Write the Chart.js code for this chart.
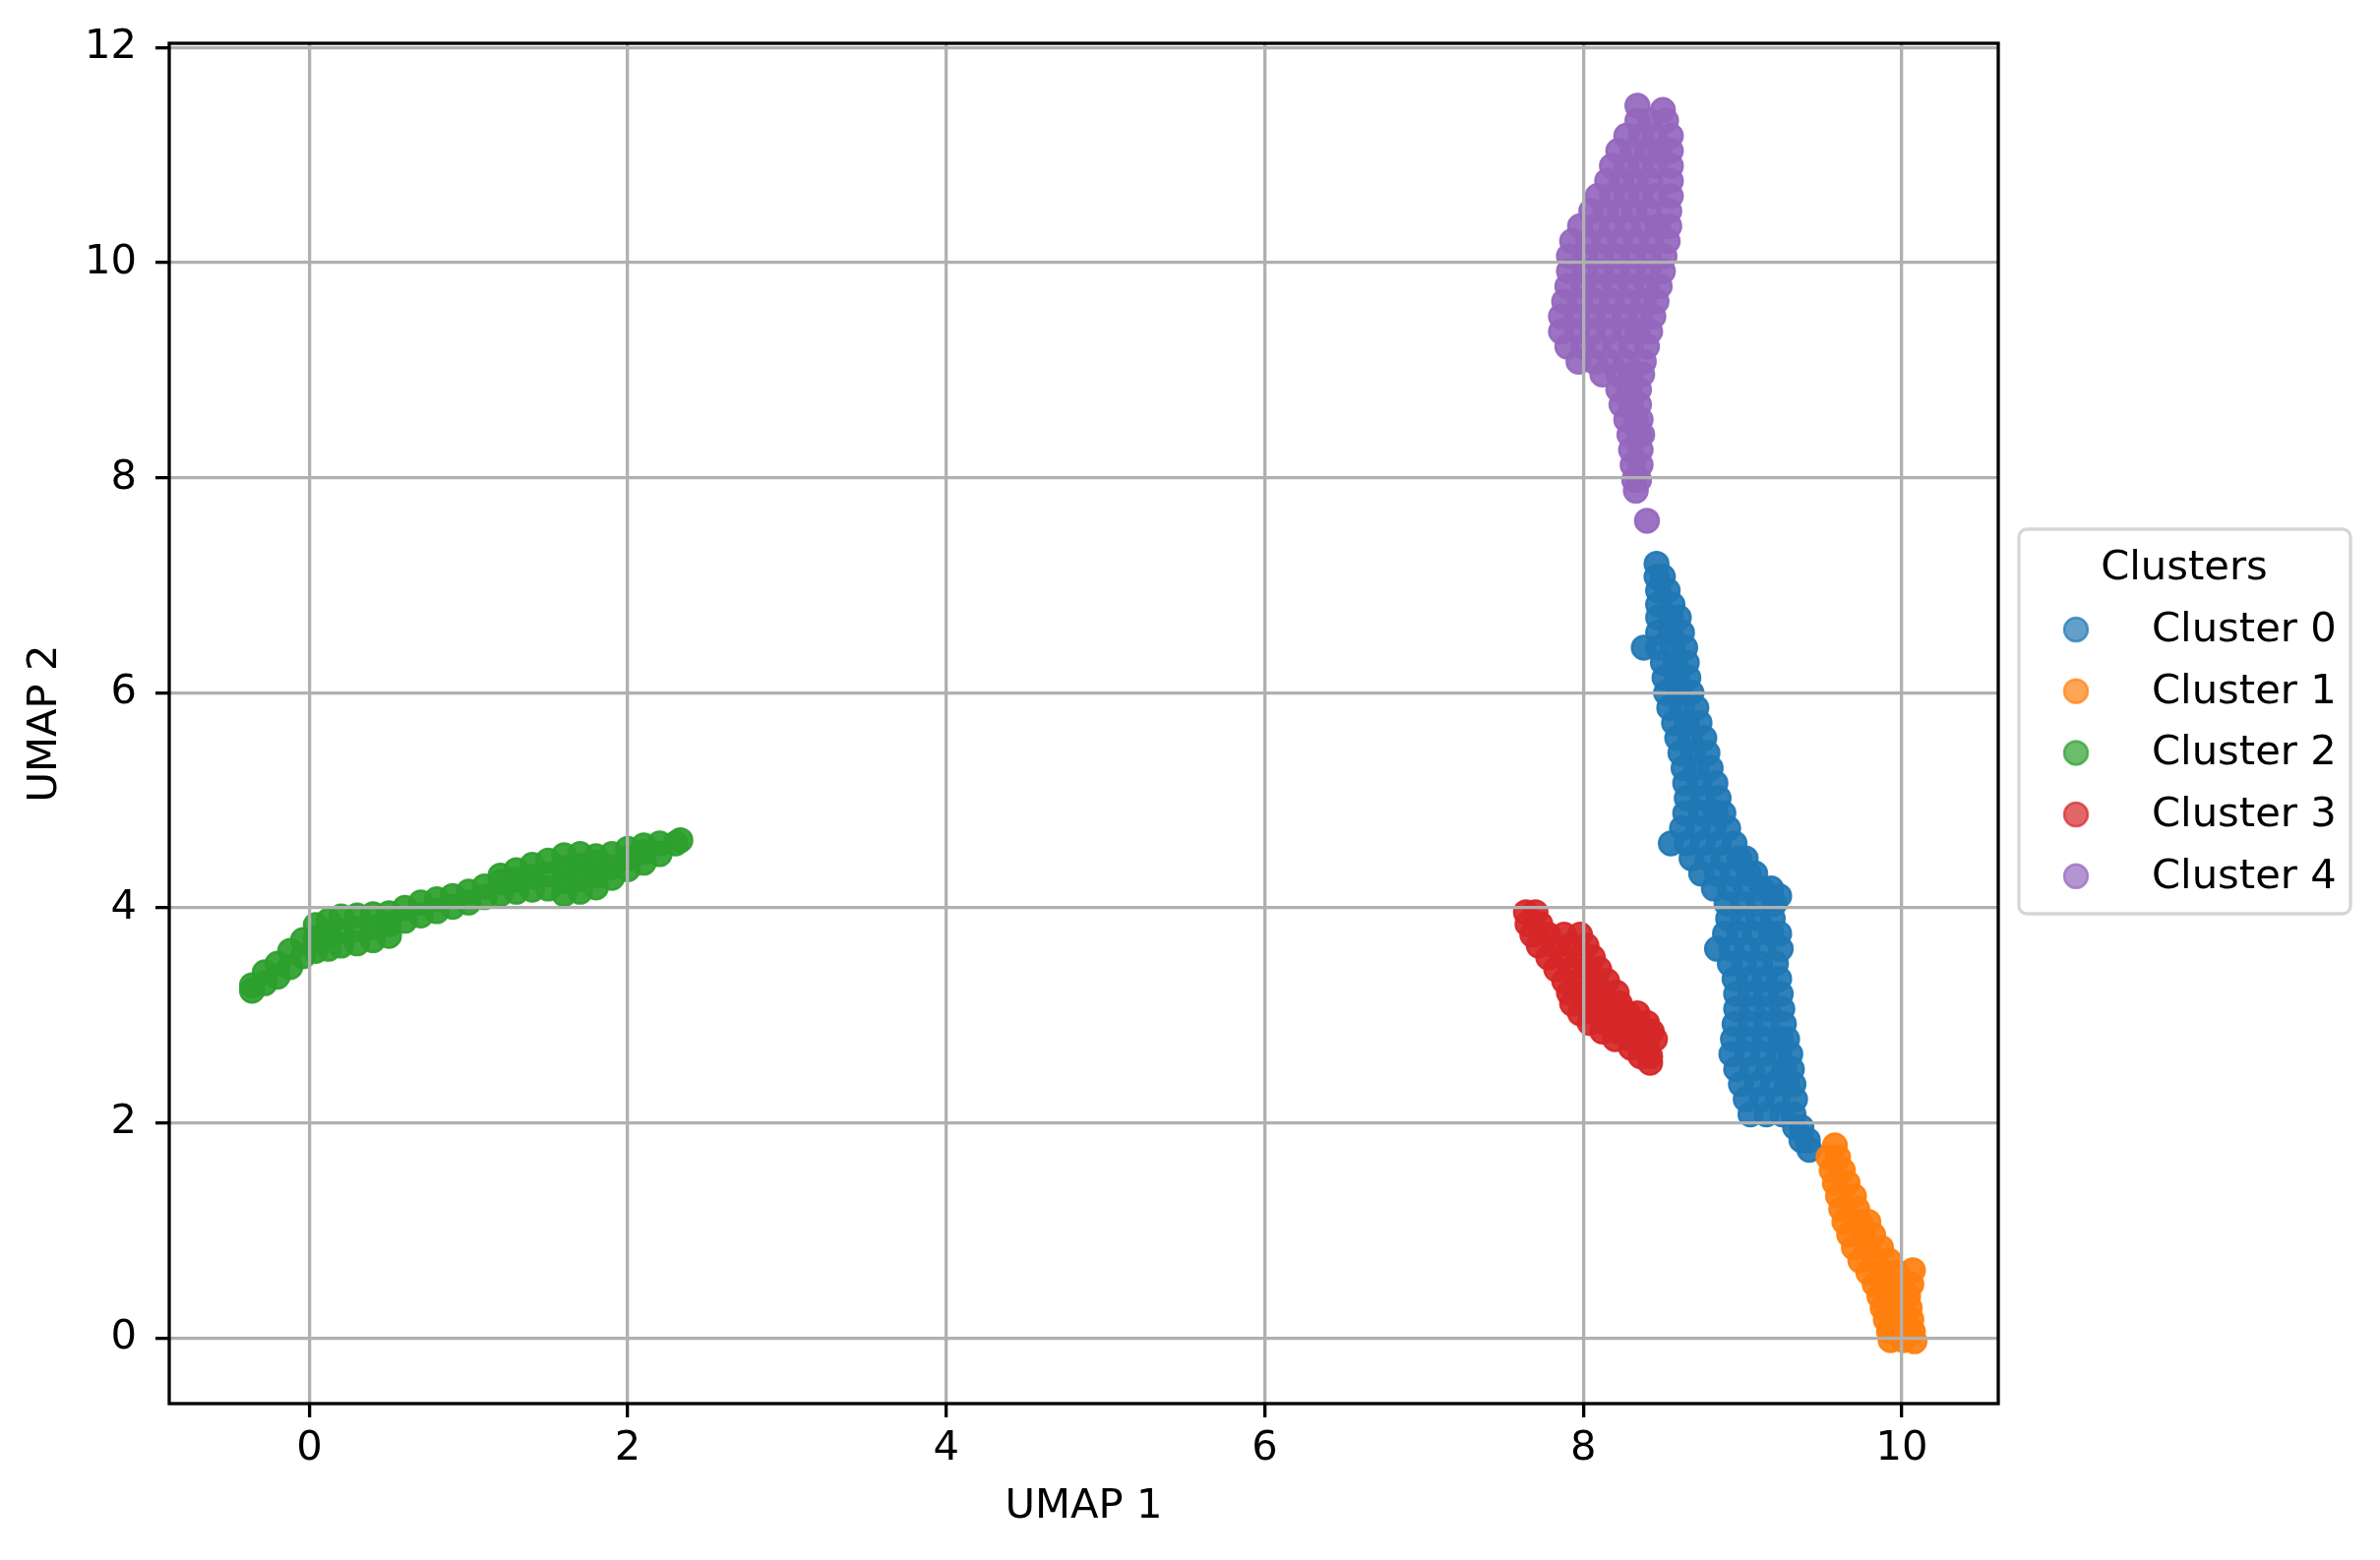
<!DOCTYPE html>
<html>
<head>
<meta charset="utf-8">
<script src="https://cdn.jsdelivr.net/npm/chart.js@4.4.1/dist/chart.umd.min.js"></script>
<style>
  html, body { margin: 0; padding: 0; background: #fff; }
  canvas { display: block; }
</style>
</head>
<body>
<canvas id="umapChart" width="2419" height="1586"></canvas>
<script>
var clusterNames = ["Cluster 0", "Cluster 1", "Cluster 2", "Cluster 3", "Cluster 4"];
var clusterColors = ["31,119,180", "255,127,14", "44,160,44", "214,39,40", "148,103,189"];
var xTicks = [0, 2, 4, 6, 8, 10];
var yTicks = [0, 2, 4, 6, 8, 10, 12];

// points, [umap1, umap2]
var cluster0 = [
  [8.46,7.20],
  [8.46,7.08],[8.50,7.08],
  [8.47,6.95],[8.53,6.95],
  [8.47,6.82],[8.56,6.82],
  [8.47,6.70],[8.55,6.70],[8.60,6.70],
  [8.47,6.56],[8.55,6.56],[8.62,6.56],
  [8.38,6.42],[8.47,6.42],[8.56,6.42],[8.64,6.42],
  [8.50,6.28],[8.58,6.28],[8.65,6.28],
  [8.51,6.14],[8.59,6.14],[8.66,6.14],
  [8.52,6.00],[8.60,6.00],[8.68,6.00],
  [8.54,5.86],[8.62,5.86],[8.71,5.86],
  [8.57,5.72],[8.65,5.72],[8.73,5.72],
  [8.59,5.58],[8.67,5.58],[8.76,5.58],
  [8.61,5.44],[8.69,5.44],[8.78,5.44],
  [8.63,5.30],[8.71,5.30],[8.80,5.30],
  [8.64,5.16],[8.73,5.16],[8.83,5.16],
  [8.65,5.02],[8.75,5.02],[8.85,5.02],
  [8.64,4.88],[8.74,4.88],[8.83,4.88],[8.88,4.88],
  [8.62,4.74],[8.72,4.74],[8.82,4.74],[8.91,4.74],
  [8.55,4.60],[8.65,4.60],[8.75,4.60],[8.85,4.60],[8.95,4.60],
  [8.68,4.46],[8.78,4.46],[8.88,4.46],[8.98,4.46],[9.02,4.46],
  [8.74,4.32],[8.84,4.32],[8.94,4.32],[9.04,4.32],[9.08,4.32],
  [8.82,4.18],[8.92,4.18],[9.02,4.18],[9.12,4.18],[9.18,4.18],
  [8.90,4.04],[9.00,4.04],[9.10,4.04],[9.20,4.04],[9.23,4.11],
  [8.91,3.90],[9.00,3.90],[9.10,3.90],[9.19,3.90],
  [8.89,3.76],[8.98,3.76],[9.08,3.76],[9.18,3.76],[9.23,3.76],
  [8.84,3.62],[8.93,3.62],[9.03,3.62],[9.13,3.62],[9.24,3.62],
  [8.92,3.48],[9.01,3.48],[9.11,3.48],[9.21,3.48],
  [8.95,3.34],[9.04,3.34],[9.14,3.34],[9.23,3.34],
  [8.96,3.20],[9.05,3.20],[9.15,3.20],[9.24,3.20],
  [8.96,3.06],[9.06,3.06],[9.16,3.06],[9.25,3.06],
  [8.95,2.92],[9.05,2.92],[9.15,2.92],[9.26,2.92],
  [8.94,2.78],[9.04,2.78],[9.14,2.78],[9.24,2.78],[9.28,2.78],
  [8.93,2.64],[9.03,2.64],[9.13,2.64],[9.23,2.64],[9.30,2.64],
  [8.96,2.50],[9.06,2.50],[9.16,2.50],[9.26,2.50],[9.31,2.50],
  [8.99,2.36],[9.09,2.36],[9.19,2.36],[9.28,2.36],[9.32,2.36],
  [9.02,2.22],[9.12,2.22],[9.22,2.22],[9.33,2.22],
  [9.05,2.08],[9.15,2.08],[9.25,2.08],[9.32,2.08],
  [9.33,1.96],[9.37,1.96],
  [9.37,1.84],[9.41,1.84],
  [9.42,1.75]
];

var cluster1 = [
  [9.58,1.79],
  [9.54,1.68],[9.60,1.68],
  [9.56,1.56],[9.63,1.56],
  [9.58,1.44],[9.66,1.44],
  [9.60,1.32],[9.70,1.32],
  [9.62,1.20],[9.72,1.20],
  [9.64,1.08],[9.74,1.08],[9.79,1.08],
  [9.67,0.96],[9.76,0.96],[9.82,0.96],
  [9.70,0.84],[9.79,0.84],[9.87,0.84],
  [9.74,0.72],[9.83,0.72],[9.92,0.72],
  [9.79,0.61],[9.88,0.61],[9.97,0.61],[10.07,0.63],
  [9.83,0.50],[9.92,0.50],[10.00,0.50],[10.06,0.50],
  [9.86,0.39],[9.95,0.39],[10.04,0.39],
  [9.88,0.28],[9.97,0.28],[10.05,0.28],
  [9.90,0.17],[9.98,0.17],[10.06,0.17],
  [9.92,0.06],[10.00,0.06],[10.07,0.06],
  [9.93,-0.02],[10.01,-0.02],[10.08,-0.03]
];

var cluster2 = [
  [-0.36,3.23],[-0.36,3.28],
  [-0.28,3.30],[-0.28,3.40],
  [-0.20,3.36],[-0.20,3.48],
  [-0.12,3.45],[-0.12,3.60],
  [-0.04,3.55],[-0.04,3.70],
  [0.04,3.60],[0.04,3.72],[0.04,3.84],
  [0.12,3.62],[0.12,3.75],[0.12,3.88],
  [0.20,3.65],[0.20,3.78],[0.20,3.92],
  [0.30,3.67],[0.30,3.80],[0.30,3.93],
  [0.40,3.70],[0.40,3.82],[0.40,3.94],
  [0.50,3.74],[0.50,3.85],[0.50,3.95],
  [0.60,3.88],[0.60,4.00],
  [0.70,3.93],[0.70,4.05],
  [0.80,3.97],[0.80,4.08],
  [0.90,4.01],[0.90,4.11],
  [1.00,4.05],[1.00,4.15],
  [1.10,4.10],[1.10,4.20],
  [1.20,4.13],[1.20,4.24],[1.20,4.30],
  [1.30,4.15],[1.30,4.26],[1.30,4.35],
  [1.40,4.17],[1.40,4.29],[1.40,4.40],
  [1.50,4.18],[1.50,4.31],[1.50,4.44],
  [1.60,4.13],[1.60,4.25],[1.60,4.37],[1.60,4.49],
  [1.70,4.15],[1.70,4.27],[1.70,4.39],[1.70,4.50],
  [1.80,4.19],[1.80,4.30],[1.80,4.42],[1.80,4.48],
  [1.90,4.28],[1.90,4.38],[1.90,4.50],
  [2.00,4.36],[2.00,4.46],[2.00,4.55],
  [2.10,4.42],[2.10,4.52],[2.10,4.58],
  [2.20,4.50],[2.20,4.60],
  [2.30,4.60],[2.33,4.63]
];

var cluster3 = [
  [7.64,3.96],[7.70,3.96],
  [7.65,3.85],[7.73,3.85],
  [7.68,3.75],[7.78,3.75],[7.88,3.75],[7.98,3.75],
  [7.72,3.65],[7.82,3.65],[7.92,3.65],[8.02,3.65],
  [7.78,3.54],[7.88,3.54],[7.98,3.54],[8.06,3.54],
  [7.83,3.43],[7.93,3.43],[8.03,3.43],[8.10,3.43],
  [7.88,3.32],[7.98,3.32],[8.08,3.32],[8.15,3.32],
  [7.91,3.21],[8.01,3.21],[8.11,3.21],[8.21,3.21],
  [7.93,3.11],[8.03,3.11],[8.13,3.11],[8.23,3.11],
  [7.98,3.02],[8.08,3.02],[8.18,3.02],[8.28,3.02],[8.34,3.02],
  [8.04,2.93],[8.14,2.93],[8.24,2.93],[8.34,2.93],[8.40,2.93],
  [8.12,2.85],[8.22,2.85],[8.32,2.85],[8.43,2.85],
  [8.20,2.78],[8.30,2.78],[8.40,2.78],[8.45,2.78],
  [8.30,2.70],[8.40,2.70],
  [8.36,2.62],[8.42,2.62],
  [8.42,2.56]
];

var cluster4 = [
  [8.34,11.46],
  [8.50,11.42],
  [8.34,11.32],[8.42,11.32],[8.52,11.32],
  [8.27,11.18],[8.36,11.18],[8.45,11.18],[8.55,11.18],
  [8.22,11.04],[8.31,11.04],[8.40,11.04],[8.48,11.04],[8.55,11.04],
  [8.18,10.90],[8.27,10.90],[8.36,10.90],[8.45,10.90],[8.55,10.90],
  [8.15,10.76],[8.24,10.76],[8.33,10.76],[8.42,10.76],[8.55,10.76],
  [8.09,10.62],[8.18,10.62],[8.27,10.62],[8.36,10.62],[8.45,10.62],[8.55,10.62],
  [8.05,10.48],[8.14,10.48],[8.23,10.48],[8.32,10.48],[8.41,10.48],[8.54,10.48],
  [7.98,10.34],[8.08,10.34],[8.18,10.34],[8.28,10.34],[8.38,10.34],[8.47,10.34],[8.54,10.34],
  [7.93,10.20],[8.03,10.20],[8.13,10.20],[8.23,10.20],[8.33,10.20],[8.43,10.20],[8.53,10.20],
  [7.91,10.06],[8.01,10.06],[8.11,10.06],[8.21,10.06],[8.31,10.06],[8.41,10.06],[8.51,10.06],
  [7.91,9.92],[8.01,9.92],[8.11,9.92],[8.21,9.92],[8.31,9.92],[8.41,9.92],[8.50,9.92],
  [7.90,9.78],[8.00,9.78],[8.10,9.78],[8.20,9.78],[8.30,9.78],[8.40,9.78],[8.48,9.78],
  [7.88,9.64],[7.98,9.64],[8.08,9.64],[8.18,9.64],[8.28,9.64],[8.38,9.64],[8.46,9.64],
  [7.86,9.50],[7.96,9.50],[8.06,9.50],[8.16,9.50],[8.26,9.50],[8.36,9.50],[8.44,9.50],
  [7.86,9.36],[7.96,9.36],[8.06,9.36],[8.16,9.36],[8.26,9.36],[8.34,9.36],[8.42,9.36],
  [7.90,9.22],[8.00,9.22],[8.10,9.22],[8.20,9.22],[8.30,9.22],[8.40,9.22],
  [7.97,9.08],[8.07,9.08],[8.17,9.08],[8.27,9.08],[8.38,9.08],
  [8.12,8.96],[8.22,8.96],[8.30,8.96],[8.37,8.96],
  [8.22,8.82],[8.29,8.82],[8.35,8.82],
  [8.24,8.68],[8.30,8.68],[8.35,8.68],
  [8.27,8.54],[8.33,8.54],[8.36,8.54],
  [8.29,8.40],[8.35,8.40],[8.37,8.40],
  [8.30,8.26],[8.36,8.26],
  [8.31,8.12],[8.36,8.12],
  [8.32,7.98],[8.35,7.98],
  [8.33,7.88],
  [8.40,7.60]
];

var clusterPoints = [cluster0, cluster1, cluster2, cluster3, cluster4];

var fontFamily = "'DejaVu Sans', 'Liberation Sans', sans-serif";
var fontSize = 41.7;
Chart.defaults.font.family = fontFamily;
Chart.defaults.font.size = fontSize;
Chart.defaults.color = "#000";

// the real plot has thousands of overlapping dots, so the bands read almost opaque
var datasets = clusterNames.map(function (name, i) {
  return {
    label: name,
    data: clusterPoints[i].map(function (p) { return { x: p[0], y: p[1] }; }),
    backgroundColor: "rgba(" + clusterColors[i] + ",0.92)",
    borderColor: "rgba(" + clusterColors[i] + ",0.92)",
    borderWidth: 2.5,
    pointRadius: 12,
    order: clusterNames.length - i
  };
});

// frame around the plot, like matplotlib spines
var frameBox = {
  id: "frameBox",
  afterDraw: function (chart) {
    var a = chart.chartArea;
    var ctx = chart.ctx;
    ctx.save();
    ctx.strokeStyle = "#000";
    ctx.lineWidth = 3.3;
    ctx.strokeRect(a.left, a.top, a.right - a.left, a.bottom - a.top);
    ctx.restore();
  }
};

// legend with title, drawn outside to the right
var clusterLegend = {
  id: "clusterLegend",
  afterDraw: function (chart) {
    var a = chart.chartArea;
    var ctx = chart.ctx;
    var w = 337, h = 391, r = 8;
    var left = a.right + 21;
    var top = (a.top + a.bottom) / 2 - h / 2 - 2;
    ctx.save();
    ctx.beginPath();
    ctx.moveTo(left + r, top);
    ctx.lineTo(left + w - r, top);
    ctx.arcTo(left + w, top, left + w, top + r, r);
    ctx.lineTo(left + w, top + h - r);
    ctx.arcTo(left + w, top + h, left + w - r, top + h, r);
    ctx.lineTo(left + r, top + h);
    ctx.arcTo(left, top + h, left, top + h - r, r);
    ctx.lineTo(left, top + r);
    ctx.arcTo(left, top, left + r, top, r);
    ctx.closePath();
    ctx.fillStyle = "rgba(255,255,255,0.8)";
    ctx.fill();
    ctx.lineWidth = 3.3;
    ctx.strokeStyle = "rgba(204,204,204,0.8)";
    ctx.stroke();

    ctx.font = fontSize + "px " + fontFamily;
    ctx.fillStyle = "#000";
    ctx.textBaseline = "alphabetic";
    ctx.textAlign = "center";
    ctx.fillText("Clusters", left + 168, top + 51);

    ctx.textAlign = "left";
    chart.data.datasets.forEach(function (ds, i) {
      var cy = top + 102 + i * 62.7;
      var rgb = clusterColors[i];
      ctx.beginPath();
      ctx.arc(left + 58, cy, 12, 0, Math.PI * 2);
      ctx.fillStyle = "rgba(" + rgb + ",0.7)";
      ctx.fill();
      ctx.lineWidth = 2.5;
      ctx.strokeStyle = "rgba(" + rgb + ",0.7)";
      ctx.stroke();
      ctx.fillStyle = "#000";
      ctx.fillText(ds.label, left + 135, cy + 12);
    });
    ctx.restore();
  }
};

var ctx = document.getElementById("umapChart").getContext("2d");

var umapChart = new Chart(ctx, {
  type: "scatter",
  data: { datasets: datasets },
  plugins: [frameBox, clusterLegend],
  options: {
    responsive: false,
    animation: false,
    devicePixelRatio: 1,
    events: [],
    layout: {
      padding: { top: 42, right: 388, bottom: 0, left: 0 }
    },
    scales: {
      x: {
        type: "linear",
        min: -0.88,
        max: 10.606,
        afterBuildTicks: function (scale) {
          scale.ticks = xTicks.map(function (v) { return { value: v }; });
        },
        afterFit: function (scale) { scale.height = 159; },
        grid: {
          color: "#b0b0b0",
          lineWidth: 3.3,
          tickColor: "#000",
          tickWidth: 3.3,
          tickLength: 14,
          z: 1
        },
        border: { display: false },
        ticks: { color: "#000", padding: 7, maxRotation: 0 },
        title: {
          display: true,
          text: "UMAP 1",
          color: "#000",
          padding: { top: 0, bottom: 29 }
        }
      },
      y: {
        type: "linear",
        min: -0.61,
        max: 12.04,
        afterBuildTicks: function (scale) {
          scale.ticks = yTicks.map(function (v) { return { value: v }; });
        },
        afterFit: function (scale) { scale.width = 172; },
        grid: {
          color: "#b0b0b0",
          lineWidth: 3.3,
          tickColor: "#000",
          tickWidth: 3.3,
          tickLength: 14,
          z: 1
        },
        border: { display: false },
        ticks: { color: "#000", padding: 19 },
        title: {
          display: true,
          text: "UMAP 2",
          color: "#000",
          padding: { top: 21, bottom: 0 }
        }
      }
    },
    plugins: {
      legend: { display: false },
      tooltip: { enabled: false }
    }
  }
});
</script>
</body>
</html>
